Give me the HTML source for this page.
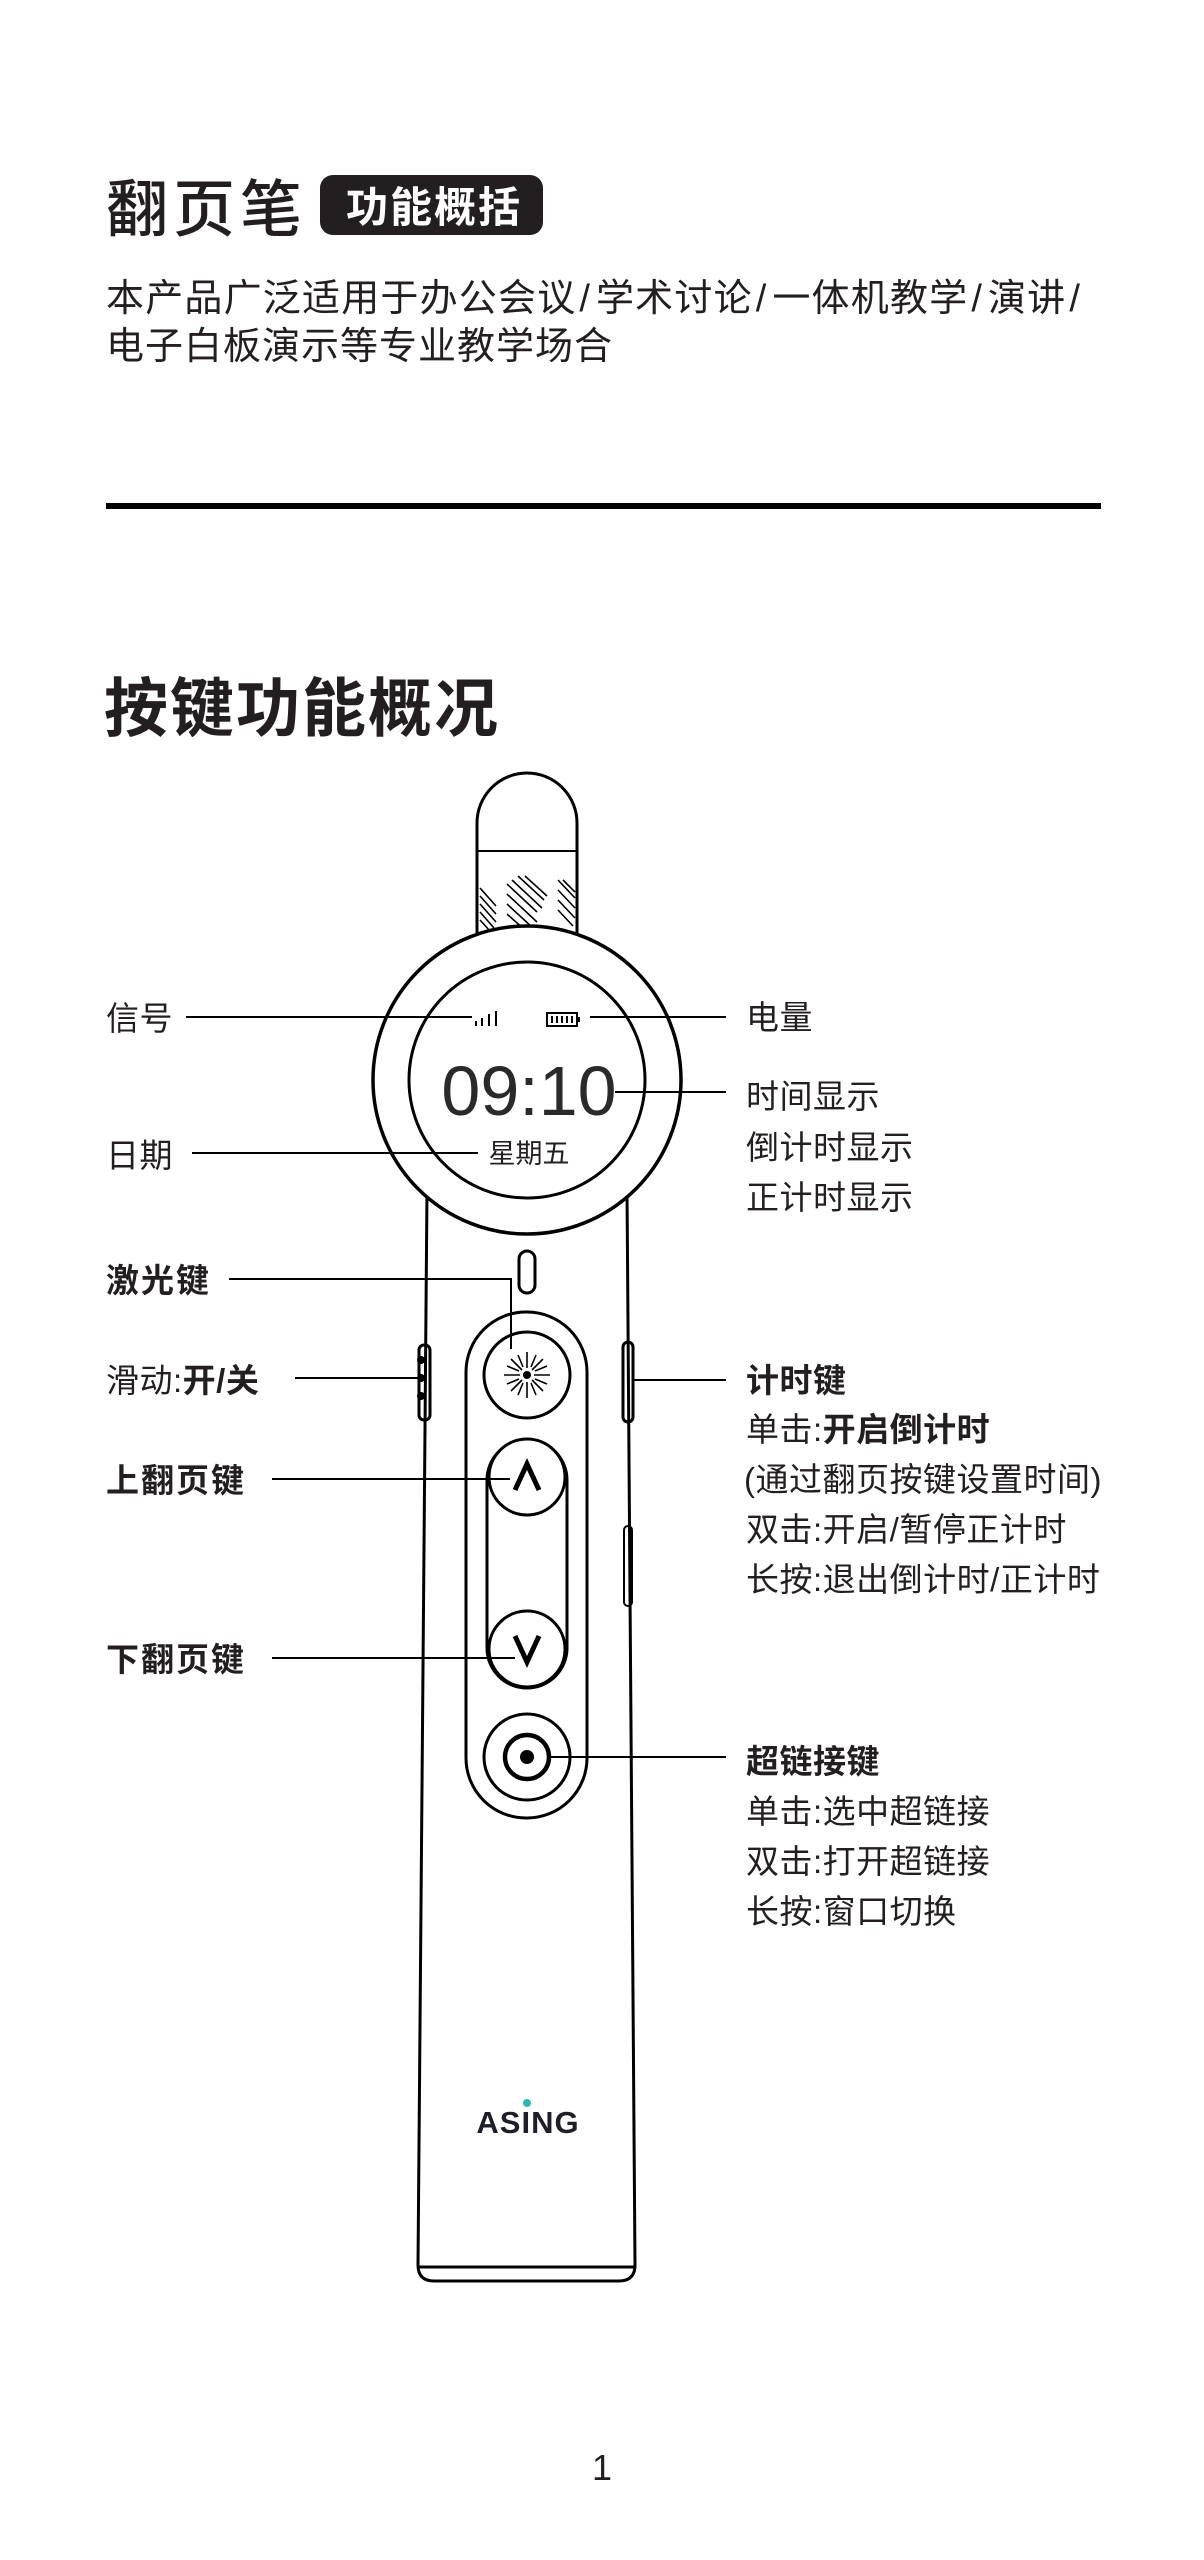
<!DOCTYPE html>
<html><head><meta charset="utf-8"><style>
html,body{margin:0;padding:0;background:#fff}
svg{display:block}
text{font-family:"Liberation Sans","Noto Sans CJK SC",sans-serif;fill:#231f20}
.l{font-size:33px;letter-spacing:0.5px}
.b{font-weight:bold}
.s{letter-spacing:6px}
</style></head><body>
<svg width="1204" height="2560" viewBox="0 0 1204 2560" xmlns="http://www.w3.org/2000/svg">
<!-- header -->
<text x="106" y="231" style="font-size:62px;font-weight:500;letter-spacing:5px">翻页笔</text>
<rect x="320" y="175" width="223" height="60" rx="13" fill="#231f20"/>
<text x="346" y="222" style="font-size:42px;font-weight:bold;fill:#fff;letter-spacing:2px">功能概括</text>
<text x="106" y="311" style="font-size:38px;letter-spacing:1.2px">本产品广泛适用于办公会议<tspan class="s" dx="3">/</tspan>学术讨论<tspan class="s" dx="3">/</tspan>一体机教学<tspan class="s" dx="3">/</tspan>演讲<tspan dx="3">/</tspan></text>
<text x="106" y="359" style="font-size:38px;letter-spacing:1px">电子白板演示等专业教学场合</text>
<rect x="106" y="503" width="995" height="6" fill="#000"/>
<text x="104" y="731" style="font-size:64px;font-weight:bold;letter-spacing:2px">按键功能概况</text>

<g fill="none" stroke="#000" stroke-width="3">
<!-- cap -->
<path d="M477,940 L477,823 A50,50 0 0 1 577,823 L577,940" fill="#fff"/>
<line x1="477" y1="851" x2="577" y2="851" stroke-width="2"/>
<g stroke-width="1.6">
<path d="M480,888 l16,18 M480,896 l16,18 M480,904 l16,18 M480,912 l14,16 M480,920 l10,11"/>
<path d="M507,884 l30,28 M512,880 l30,28 M518,876 l26,24 M507,894 l30,28 M507,904 l26,24 M507,914 l18,16 M525,876 l22,20"/>
<path d="M558,880 l17,18 M558,890 l17,18 M558,900 l17,18 M558,910 l15,16 M563,880 l12,12"/>
</g>
<!-- body -->
<path d="M427,1190 L418,2265 Q418,2281 434,2281 L619,2281 Q635,2281 635,2265 L627,1190"/>
<line x1="418" y1="2267" x2="635" y2="2267" stroke-width="3"/>
<!-- ring -->
<circle cx="527" cy="1080" r="154" fill="#fff" stroke-width="3.5"/>
<circle cx="527" cy="1080" r="118" stroke-width="3"/>
<!-- signal -->
<path d="M476,1026 v-5 M482,1026 v-8 M489,1026 v-12 M496,1026 v-15" stroke-width="2"/>
<rect x="547" y="1013" width="30" height="13" stroke-width="2"/>
<path d="M552,1016 v7 M557,1016 v7 M562,1016 v7 M567,1016 v7 M572,1016 v7" stroke-width="2"/>
<rect x="578" y="1017" width="2" height="5" fill="#000" stroke="none"/>
<!-- laser slot -->
<rect x="519" y="1251" width="16" height="42" rx="8"/>
<!-- capsule -->
<rect x="466" y="1312" width="121" height="506" rx="60"/>
<circle cx="527" cy="1375" r="43"/>
<rect x="487" y="1440" width="80" height="248" rx="40"/>
<circle cx="527" cy="1477" r="38" fill="#fff"/>
<circle cx="527" cy="1649" r="38" fill="#fff"/>
<circle cx="527" cy="1757" r="43"/>
<circle cx="527" cy="1757" r="22" stroke-width="4.5"/>
<!-- side buttons -->
<rect x="419" y="1345" width="11" height="75" rx="5"/>
<rect x="623" y="1342" width="10" height="80" rx="5"/>
<rect x="624" y="1526" width="8" height="80" rx="4" stroke-width="2"/>
</g>
<circle cx="527" cy="1757" r="7" fill="#000"/>
<circle cx="421" cy="1360" r="4" fill="#000"/><circle cx="421" cy="1378" r="4" fill="#000"/><circle cx="421" cy="1396" r="4" fill="#000"/>
<!-- laser star -->
<g stroke="#000" stroke-width="1.6">
<path d="M527,1352 v16 M527,1382 v16 M504,1375 h16 M534,1375 h16 M511,1359 l11,11 M532,1380 l11,11 M543,1359 l-11,11 M522,1380 l-11,11 M518,1355 l5,12 M531,1383 l5,12 M536,1355 l-5,12 M523,1383 l-5,12 M507,1366 l12,5 M535,1379 l12,5 M547,1366 l-12,5 M519,1379 l-12,5"/>
</g>
<circle cx="527" cy="1375" r="4" fill="#000"/>
<path d="M515,1490 L527,1464 L539,1490" fill="none" stroke="#000" stroke-width="5"/>
<path d="M515,1636 L527,1662 L539,1636" fill="none" stroke="#000" stroke-width="5"/>
<!-- time text -->
<text x="529" y="1115" text-anchor="middle" style="font-size:70px;fill:#2a2a2a">09:10</text>
<text x="529" y="1163" text-anchor="middle" style="font-size:27px">星期五</text>
<!-- logo -->
<text x="528" y="2133" text-anchor="middle" style="font-size:31px;font-weight:bold;letter-spacing:1px;fill:#1e1e28">ASING</text>
<circle cx="527" cy="2103" r="4" fill="#2bb7b0"/>

<!-- leader lines -->
<g stroke="#000" stroke-width="2" fill="none">
<path d="M186,1017 H472"/>
<path d="M590,1017 H726"/>
<path d="M615,1092 H726"/>
<path d="M192,1153 H478"/>
<path d="M229,1279 H511 V1349"/>
<path d="M295,1378 H418"/>
<path d="M633,1380 H726"/>
<path d="M272,1479 H510"/>
<path d="M272,1658 H515"/>
<path d="M550,1757 H726"/>
</g>

<!-- left labels -->
<text class="l" x="106" y="1030">信号</text>
<text class="l" x="106" y="1167">日期</text>
<text class="l b" x="106" y="1292" style="letter-spacing:2px">激光键</text>
<text class="l" x="106" y="1392">滑动:<tspan class="b">开/关</tspan></text>
<text class="l b" x="106" y="1492" style="letter-spacing:2px">上翻页键</text>
<text class="l b" x="106" y="1671" style="letter-spacing:2px">下翻页键</text>
<!-- right labels -->
<text class="l" x="746" y="1029">电量</text>
<text class="l" x="746" y="1108">时间显示</text>
<text class="l" x="746" y="1159">倒计时显示</text>
<text class="l" x="746" y="1209">正计时显示</text>
<text class="l b" x="746" y="1392">计时键</text>
<text class="l" x="746" y="1441">单击:<tspan class="b">开启倒计时</tspan></text>
<text class="l" x="744" y="1491">(通过翻页按键设置时间)</text>
<text class="l" x="746" y="1541">双击:开启/暂停正计时</text>
<text class="l" x="746" y="1591">长按:退出倒计时/正计时</text>
<text class="l b" x="746" y="1773">超链接键</text>
<text class="l" x="746" y="1823">单击:选中超链接</text>
<text class="l" x="746" y="1873">双击:打开超链接</text>
<text class="l" x="746" y="1923">长按:窗口切换</text>

<text x="602" y="2480" text-anchor="middle" style="font-size:36px">1</text>
</svg>
</body></html>
